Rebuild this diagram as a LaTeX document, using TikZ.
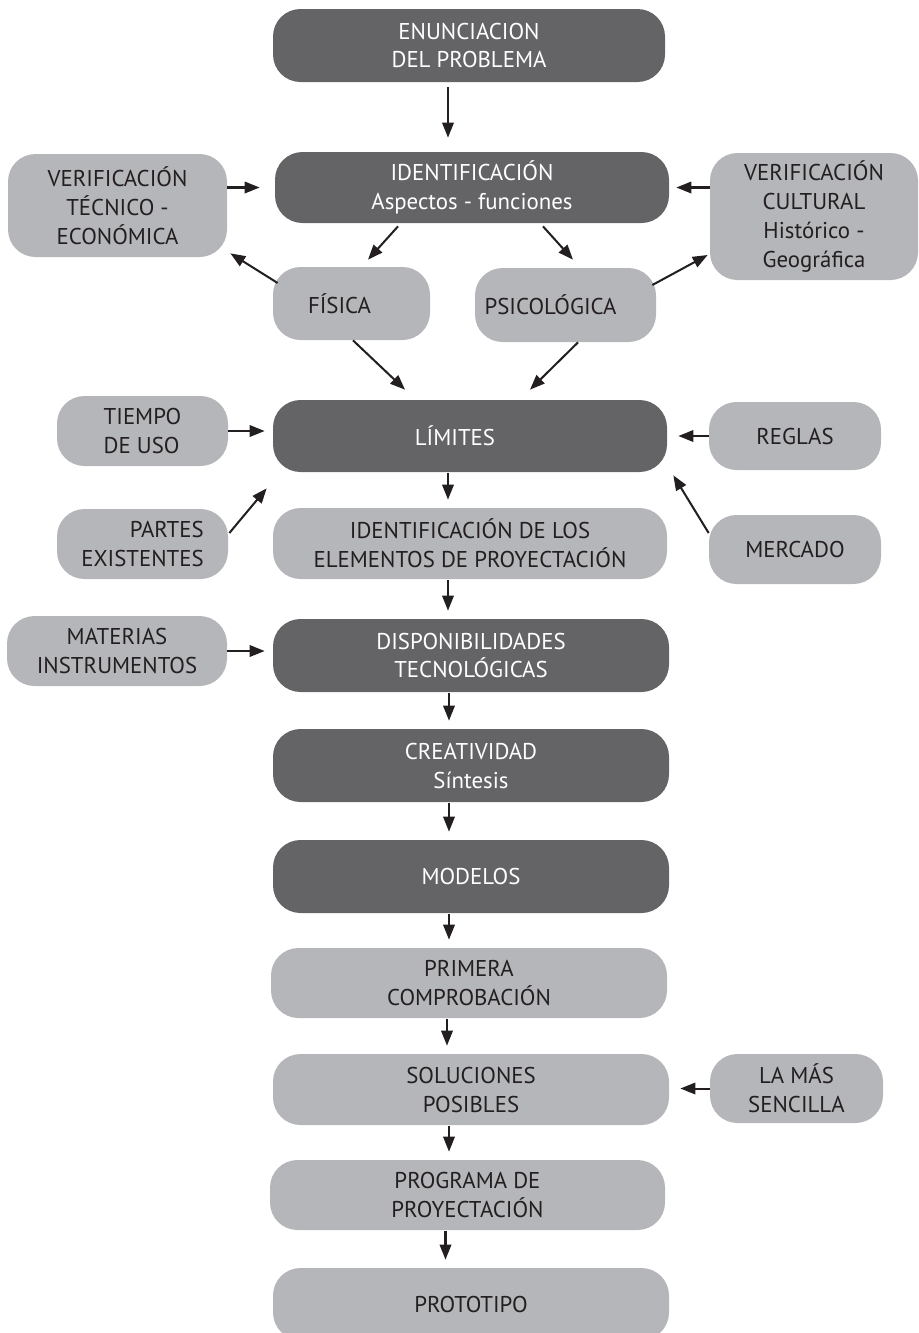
\documentclass[tikz,border=0pt]{standalone}
\usepackage{fontspec}
\setmainfont{PT Sans}
\usetikzlibrary{arrows.meta,positioning,calc}

\definecolor{cajaoscura}{HTML}{646466}
\definecolor{cajaclara}{HTML}{B5B6B9}
\definecolor{tinta}{HTML}{231F20}

\tikzset{
    caja/.style={rectangle, rounded corners=0.55cm, align=center, inner sep=2pt,
        font=\fontsize{13}{16.5}\selectfont},
    tam/.style 2 args={minimum width=#1*0.02cm, minimum height=#2*0.02cm},
    oscura/.style={caja, fill=cajaoscura, text=white},
    clara/.style={caja, fill=cajaclara, text=tinta},
    flecha/.style={draw=tinta, line width=1.15pt, -{Triangle[length=8.5pt,width=6.5pt]}}
}

\begin{document}
\begin{tikzpicture}[x=0.02cm, y=-0.02cm]
        % Frame of the page
        \clip (0,0) rectangle (919,1333);

        % Main column
        \node[oscura, tam={392}{73}] (enun) at (469,45.5) {ENUNCIACION\\DEL PROBLEMA};
        \node[oscura, tam={394}{71}] (ident) at (472,187.5) {IDENTIFICACIÓN\\Aspectos - funciones};
        \node[oscura, tam={394}{72}] (limites) at (470,436) {LÍMITES\hspace*{0.6cm}};
        \node[clara, tam={394}{71}] (identelem) at (470,543.5) {IDENTIFICACIÓN DE LOS\\ELEMENTOS DE PROYECTACIÓN};
        \node[oscura, tam={396}{73}] (disp) at (471,655.5) {DISPONIBILIDADES\\TECNOLÓGICAS};
        \node[oscura, tam={396}{73}] (creat) at (471,765.5) {CREATIVIDAD\\Síntesis};
        \node[oscura, tam={396}{73}] (modelos) at (471,876.5) {MODELOS};
        \node[clara, tam={396}{70}] (primera) at (469,983) {PRIMERA\\COMPROBACIÓN};
        \node[clara, tam={396}{71}] (soluc) at (471,1089.5) {SOLUCIONES\\POSIBLES};
        \node[clara, tam={395}{70}] (programa) at (467.5,1195) {PROGRAMA DE\\PROYECTACIÓN};
        \node[clara, tam={396}{72}] (proto) at (471,1304) {PROTOTIPO};

        % Aspects
        \node[clara, tam={157}{73}] (fisica) at (351.5,303.5) {FÍSICA\hspace*{0.48cm}};
        \node[clara, tam={181}{74}] (psico) at (565.5,305) {PSICOLÓGICA\hspace*{0.6cm}};

        % Side boxes
        \node[clara, tam={219}{103}] (vertec) at (117.5,205.5) {VERIFICACIÓN\\TÉCNICO -\\ECONÓMICA};
        \node[clara, tam={208}{127}] (vercul) at (814,216.5) {VERIFICACIÓN\\CULTURAL\\Histórico -\\Geográfica};
        \node[clara, tam={171}{70}, align=left] (tiempo) at (142.5,431) {TIEMPO\\DE USO};
        \node[clara, tam={171}{70}, align=right] (partes) at (142.5,544) {PARTES\\EXISTENTES};
        \node[clara, tam={220}{70}] (materias) at (117,651) {MATERIAS\\INSTRUMENTOS};
        \node[clara, tam={172}{68}] (reglas) at (795,436) {REGLAS};
        \node[clara, tam={172}{69}] (mercado) at (795,549.5) {MERCADO};
        \node[clara, tam={173}{69}] (lamas) at (796.5,1088.5) {LA MÁS\\SENCILLA};

        % Main flow
        \draw[flecha] ($(enun.south)+(-21,5)$) -- ($(enun.south |- ident.north)+(-21,-14)$);
        \foreach \a/\b in {limites/identelem, identelem/disp, disp/creat, creat/modelos,
                          modelos/primera, primera/soluc, soluc/programa, programa/proto}
            \draw[flecha] ($(\a.south)+(-22,1)$) -- ($(\a.south |- \b.north)+(-22,-8)$);

        % Identification to aspects
        \draw[flecha] ($(ident.south)+(-74,3)$) -- ($(fisica.north)+(16.5,-7)$);
        \draw[flecha] ($(ident.south)+(71,3)$) -- ($(psico.north)+(7.5,-8)$);
        \draw[flecha] ($(fisica.west)+(5,-20.5)$) -- ($(vertec.south east)+(3,-4)$);
        \draw[flecha] ($(psico.east)+(-4,-20)$) -- ($(vercul.west)+(-2,38.5)$);
        \draw[flecha] ($(fisica.south)+(1.5,0)$) -- ($(limites.north)+(-65,-10)$);
        \draw[flecha] ($(psico.south)+(12.5,0)$) -- ($(limites.north)+(60,-10)$);

        % Side inputs
        \draw[flecha] (vertec.east |- ident.west) -- ($(ident.west)+(-15,0)$);
        \draw[flecha] (vercul.west |- ident.east) -- ($(ident.east)+(7,0)$);
        \draw[flecha] (tiempo.east) -- ($(tiempo.east -| limites.west)+(-8,0)$);
        \draw[flecha] (reglas.west) -- ($(reglas.west -| limites.east)+(11,0)$);
        \draw[flecha] ($(partes.east)+(1,-11)$) -- ($(limites.south west)+(-6,16)$);
        \draw[flecha] ($(mercado.west)+(0,-16.5)$) -- ($(limites.south east)+(6,3)$);
        \draw[flecha] (materias.east) -- ($(materias.east -| disp.west)+(-8,0)$);
        \draw[flecha] (lamas.west) -- ($(lamas.west -| soluc.east)+(11,0)$);
      \end{tikzpicture}
\end{document}
